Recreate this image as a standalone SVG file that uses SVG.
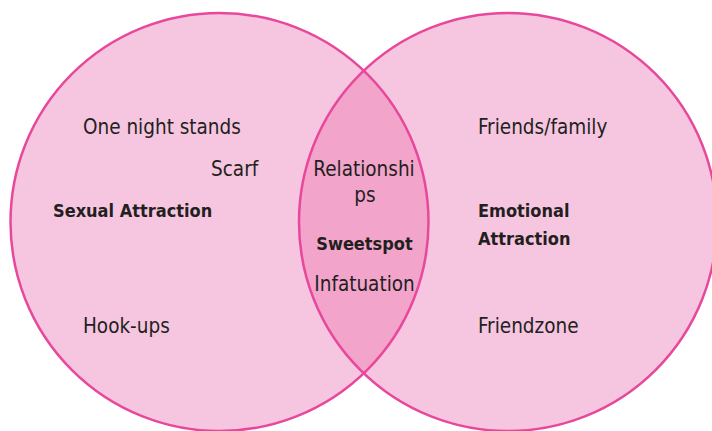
<svg xmlns="http://www.w3.org/2000/svg" width="712" height="431" viewBox="0 0 712 431">
  <style>
    .fill { fill: #F6C6E0; stroke: none; }
    .ring { fill: none; stroke: #E8489B; stroke-width: 2.5; }
    .lap { fill: #F2A4CB; stroke: none; }
    text { font-family: "DejaVu Sans Condensed", "DejaVu Sans", sans-serif; fill: #231F20; font-stretch: condensed; }
    .r { font-size: 20.5px; }
    .b { font-size: 18px; font-weight: bold; }
    .m { text-anchor: middle; }
  </style>
  <defs>
    <clipPath id="clipLeft">
      <circle cx="219.5" cy="222" r="209"/>
    </clipPath>
  </defs>
  <rect width="712" height="431" fill="#FFFFFF"/>
  <g id="sexual-attraction-circle">
    <circle class="fill" cx="219.5" cy="222" r="209"/>
  </g>
  <g id="emotional-attraction-circle">
    <circle class="fill" cx="508" cy="222" r="209"/>
  </g>
  <g id="sweetspot-overlap">
    <circle class="lap" cx="508" cy="222" r="209" clip-path="url(#clipLeft)"/>
  </g>
  <g id="outlines">
    <circle class="ring" cx="219.5" cy="222" r="209"/>
    <circle class="ring" cx="508" cy="222" r="209"/>
  </g>
  <g id="left-labels">
    <text class="r" x="83" y="134">One night stands</text>
    <text class="r" x="211" y="176">Scarf</text>
    <text class="b" x="53" y="217">Sexual Attraction</text>
    <text class="r" x="83" y="333">Hook-ups</text>
  </g>
  <g id="center-labels">
    <text class="r m" x="364" y="176">Relationshi</text>
    <text class="r m" x="365" y="202">ps</text>
    <text class="b m" x="364.5" y="250">Sweetspot</text>
    <text class="r m" x="364.5" y="291">Infatuation</text>
  </g>
  <g id="right-labels">
    <text class="r" x="478" y="134">Friends/family</text>
    <text class="b" x="478" y="217">Emotional</text>
    <text class="b" x="478" y="245">Attraction</text>
    <text class="r" x="478" y="333">Friendzone</text>
  </g>
</svg>
